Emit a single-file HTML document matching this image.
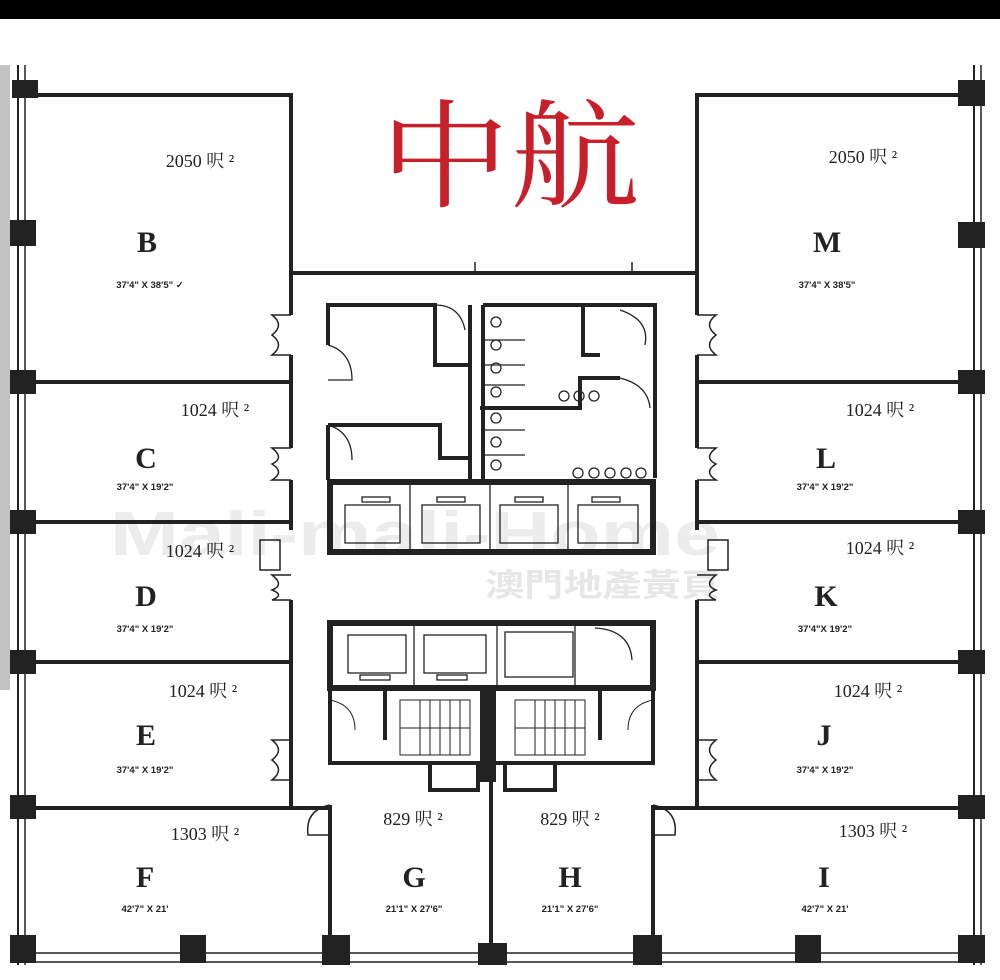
<!DOCTYPE html>
<html><head><meta charset="utf-8">
<style>
html,body{margin:0;padding:0;background:#fff;}
svg{display:block}
.a{font-family:"Liberation Serif","Noto Serif CJK SC",serif;font-size:18px;fill:#222}
.l{font-family:"Liberation Serif",serif;font-size:30px;font-weight:bold;fill:#222}
.d{font-family:"Liberation Sans",sans-serif;font-size:9.5px;fill:#222;font-weight:bold}
</style></head><body>
<svg width="1000" height="980" viewBox="0 0 1000 980" xmlns="http://www.w3.org/2000/svg">
<rect x="0" y="0" width="1000" height="19" fill="#000"/>
<rect x="0" y="65" width="10" height="625" fill="#999" opacity="0.6"/>
<!-- watermark -->
<text x="110" y="555" font-family="Liberation Sans,sans-serif" font-size="62" font-weight="bold" fill="#ddd" opacity="0.55" textLength="610" lengthAdjust="spacingAndGlyphs">Mali-mali-Home</text>
<text x="485" y="596" font-family="Liberation Sans,'Noto Sans CJK TC',sans-serif" font-size="32" font-weight="bold" fill="#ddd" opacity="0.7" textLength="235" lengthAdjust="spacingAndGlyphs">澳門地產黃頁</text>
<g stroke="#222" fill="none">
 <line x1="18" y1="65" x2="18" y2="965" stroke-width="2"/>
 <line x1="25" y1="65" x2="25" y2="965" stroke-width="1.5"/>
 <line x1="974" y1="65" x2="974" y2="965" stroke-width="2"/>
 <line x1="981" y1="65" x2="981" y2="965" stroke-width="1.5"/>
 <line x1="18" y1="953" x2="981" y2="953" stroke-width="1.5"/>
 <line x1="18" y1="962" x2="981" y2="962" stroke-width="1.5"/>
 <g stroke-width="4">
 <polyline points="30,95 291,95 291,315"/>
 <line x1="291" y1="355" x2="291" y2="448"/>
 <line x1="291" y1="480" x2="291" y2="530"/>
 <line x1="291" y1="600" x2="291" y2="808"/>
 <line x1="30" y1="382" x2="291" y2="382"/>
 <line x1="30" y1="522" x2="291" y2="522"/>
 <line x1="30" y1="662" x2="291" y2="662"/>
 <line x1="30" y1="808" x2="330" y2="808"/>
 <line x1="291" y1="273" x2="697" y2="273"/>
 <polyline points="965,95 697,95 697,315"/>
 <line x1="697" y1="355" x2="697" y2="448"/>
 <line x1="697" y1="480" x2="697" y2="530"/>
 <line x1="697" y1="600" x2="697" y2="808"/>
 <line x1="697" y1="382" x2="965" y2="382"/>
 <line x1="697" y1="522" x2="965" y2="522"/>
 <line x1="697" y1="662" x2="965" y2="662"/>
 <line x1="655" y1="808" x2="965" y2="808"/>
 <line x1="330" y1="805" x2="330" y2="940"/>
 <line x1="491" y1="780" x2="491" y2="945"/>
 <line x1="653" y1="805" x2="653" y2="940"/>
 <line x1="330" y1="763" x2="653" y2="763"/>
 </g>
 <g stroke-width="1.5">
 <path d="M291,315 L272,315 Q285,325 272,335 Q285,345 272,355 L291,355"/>
 <path d="M697,315 L716,315 Q703,325 716,335 Q703,345 716,355 L697,355"/>
 <path d="M291,448 L272,448 Q285,458 272,464 Q285,472 272,480 L291,480"/>
 <path d="M697,448 L716,448 Q703,458 716,464 Q703,472 716,480 L697,480"/>
 <rect x="260" y="540" width="20" height="30"/><rect x="708" y="540" width="20" height="30"/>
 <path d="M291,575 L272,575 Q285,585 272,590 Q285,595 272,600 L291,600"/>
 <path d="M697,575 L716,575 Q703,585 716,590 Q703,595 716,600 L697,600"/>
 <path d="M291,740 L272,740 Q285,750 272,760 Q285,770 272,780 L291,780"/>
 <path d="M697,740 L716,740 Q703,750 716,760 Q703,770 716,780 L697,780"/>
 <path d="M330,805 Q305,810 308,835 L330,835"/>
 <path d="M653,805 Q678,810 675,835 L653,835"/>
 <line x1="475" y1="262" x2="475" y2="273"/><line x1="632" y1="262" x2="632" y2="273"/>
 </g>
 <g stroke-width="4">
 <polyline points="328,345 328,305 435,305 435,365 470,365 470,305"/>
 <polyline points="470,305 470,480"/>
 <polyline points="328,425 328,480"/>
 <polyline points="328,425 440,425 440,458 470,458"/>
 <polyline points="483,305 655,305 655,478"/>
 <line x1="483" y1="305" x2="483" y2="480"/>
 <polyline points="583,305 583,355 600,355"/>
 <polyline points="620,378 580,378 580,408 480,408"/>
 </g>
 <g stroke-width="1.3">
 <path d="M328,345 Q352,352 352,380 L328,380"/>
 <path d="M328,425 Q352,432 352,460"/>
 <path d="M435,305 Q460,305 465,330"/>
 <path d="M620,310 Q650,320 645,345"/>
 <path d="M620,378 Q648,385 650,408"/>
 <line x1="483" y1="340" x2="525" y2="340"/><line x1="483" y1="365" x2="525" y2="365"/>
 <line x1="483" y1="385" x2="525" y2="385"/><line x1="483" y1="430" x2="525" y2="430"/>
 <line x1="483" y1="455" x2="525" y2="455"/>
 <circle cx="496" cy="322" r="5"/><circle cx="496" cy="345" r="5"/><circle cx="496" cy="368" r="5"/><circle cx="496" cy="392" r="5"/><circle cx="496" cy="418" r="5"/><circle cx="496" cy="442" r="5"/><circle cx="496" cy="465" r="5"/>
 <circle cx="564" cy="396" r="5"/><circle cx="579" cy="396" r="5"/><circle cx="594" cy="396" r="5"/>
 <circle cx="578" cy="473" r="5"/><circle cx="594" cy="473" r="5"/><circle cx="610" cy="473" r="5"/><circle cx="626" cy="473" r="5"/><circle cx="641" cy="473" r="5"/>
 </g>
 <rect x="330" y="482" width="323" height="70" stroke-width="6"/>
 <g stroke-width="1.3">
 <line x1="410" y1="485" x2="410" y2="550"/><line x1="490" y1="485" x2="490" y2="550"/><line x1="568" y1="485" x2="568" y2="550"/>
 <rect x="345" y="505" width="55" height="38"/><rect x="422" y="505" width="58" height="38"/><rect x="500" y="505" width="58" height="38"/><rect x="578" y="505" width="60" height="38"/>
 <rect x="362" y="497" width="28" height="5"/><rect x="437" y="497" width="28" height="5"/><rect x="515" y="497" width="28" height="5"/><rect x="592" y="497" width="28" height="5"/>
 </g>
 <rect x="330" y="623" width="323" height="65" stroke-width="6"/>
 <g stroke-width="1.3">
 <line x1="414" y1="626" x2="414" y2="686"/><line x1="497" y1="626" x2="497" y2="686"/><line x1="575" y1="626" x2="575" y2="686"/>
 <rect x="348" y="635" width="58" height="38"/><rect x="424" y="635" width="62" height="38"/><rect x="505" y="632" width="68" height="45"/>
 <rect x="360" y="675" width="30" height="5"/><rect x="437" y="675" width="30" height="5"/>
 <path d="M595,628 Q630,630 632,660"/>
 </g>
 <g stroke-width="4">
 <line x1="330" y1="688" x2="330" y2="765"/><line x1="653" y1="688" x2="653" y2="765"/>
 <rect x="482" y="688" width="12" height="92" fill="#222"/>
 <line x1="385" y1="690" x2="385" y2="740"/><line x1="600" y1="690" x2="600" y2="740"/>
 <polyline points="430,765 430,790 478,790 478,765"/><polyline points="505,765 505,790 555,790 555,765"/>
 </g>
 <g stroke-width="1">
 <rect x="400" y="700" width="70" height="55"/><rect x="515" y="700" width="70" height="55"/>
 <line x1="400" y1="728" x2="470" y2="728"/><line x1="515" y1="728" x2="585" y2="728"/>
 <path d="M420,700v55M430,700v55M440,700v55M450,700v55M460,700v55M535,700v55M545,700v55M555,700v55M565,700v55M575,700v55"/>
 <path d="M330,700 Q355,705 355,730 M653,700 Q628,705 628,730"/>
 </g>
</g>
<g fill="#222">
 <rect x="12" y="80" width="26" height="18"/><rect x="10" y="220" width="26" height="26"/><rect x="10" y="370" width="26" height="24"/>
 <rect x="10" y="510" width="26" height="24"/><rect x="10" y="650" width="26" height="24"/><rect x="10" y="795" width="26" height="24"/>
 <rect x="10" y="935" width="26" height="28"/>
 <rect x="958" y="80" width="27" height="26"/><rect x="958" y="222" width="27" height="26"/><rect x="958" y="370" width="27" height="24"/>
 <rect x="958" y="510" width="27" height="24"/><rect x="958" y="650" width="27" height="24"/><rect x="958" y="795" width="27" height="24"/>
 <rect x="958" y="935" width="27" height="28"/>
 <rect x="180" y="935" width="26" height="28"/><rect x="322" y="935" width="28" height="30"/><rect x="478" y="943" width="29" height="22"/>
 <rect x="633" y="935" width="29" height="30"/><rect x="795" y="935" width="26" height="28"/>
</g>
<text x="380" y="198" font-family="'Noto Serif CJK SC',serif" font-size="118" fill="#c8202a" textLength="260" lengthAdjust="spacingAndGlyphs">中航</text>
<g text-anchor="middle">
<text class="a" x="200" y="167">2050 呎 ²</text><text class="l" x="147" y="252">B</text><text class="d" x="150" y="288">37'4" X 38'5" ✓</text>
<text class="a" x="215" y="416">1024 呎 ²</text><text class="l" x="146" y="468">C</text><text class="d" x="145" y="490">37'4" X 19'2"</text>
<text class="a" x="200" y="557">1024 呎 ²</text><text class="l" x="146" y="606">D</text><text class="d" x="145" y="632">37'4" X 19'2"</text>
<text class="a" x="203" y="697">1024 呎 ²</text><text class="l" x="146" y="745">E</text><text class="d" x="145" y="773">37'4" X 19'2"</text>
<text class="a" x="205" y="840">1303 呎 ²</text><text class="l" x="145" y="887">F</text><text class="d" x="145" y="912">42'7" X 21'</text>
<text class="a" x="413" y="825">829 呎 ²</text><text class="l" x="414" y="887">G</text><text class="d" x="414" y="912">21'1" X 27'6"</text>
<text class="a" x="570" y="825">829 呎 ²</text><text class="l" x="570" y="887">H</text><text class="d" x="570" y="912">21'1" X 27'6"</text>
<text class="a" x="863" y="163">2050 呎 ²</text><text class="l" x="827" y="252">M</text><text class="d" x="827" y="288">37'4" X 38'5"</text>
<text class="a" x="880" y="416">1024 呎 ²</text><text class="l" x="826" y="468">L</text><text class="d" x="825" y="490">37'4" X 19'2"</text>
<text class="a" x="880" y="554">1024 呎 ²</text><text class="l" x="826" y="606">K</text><text class="d" x="825" y="632">37'4"X 19'2"</text>
<text class="a" x="868" y="697">1024 呎 ²</text><text class="l" x="824" y="745">J</text><text class="d" x="825" y="773">37'4" X 19'2"</text>
<text class="a" x="873" y="837">1303 呎 ²</text><text class="l" x="824" y="887">I</text><text class="d" x="825" y="912">42'7" X 21'</text>
</g>
</svg>
</body></html>
